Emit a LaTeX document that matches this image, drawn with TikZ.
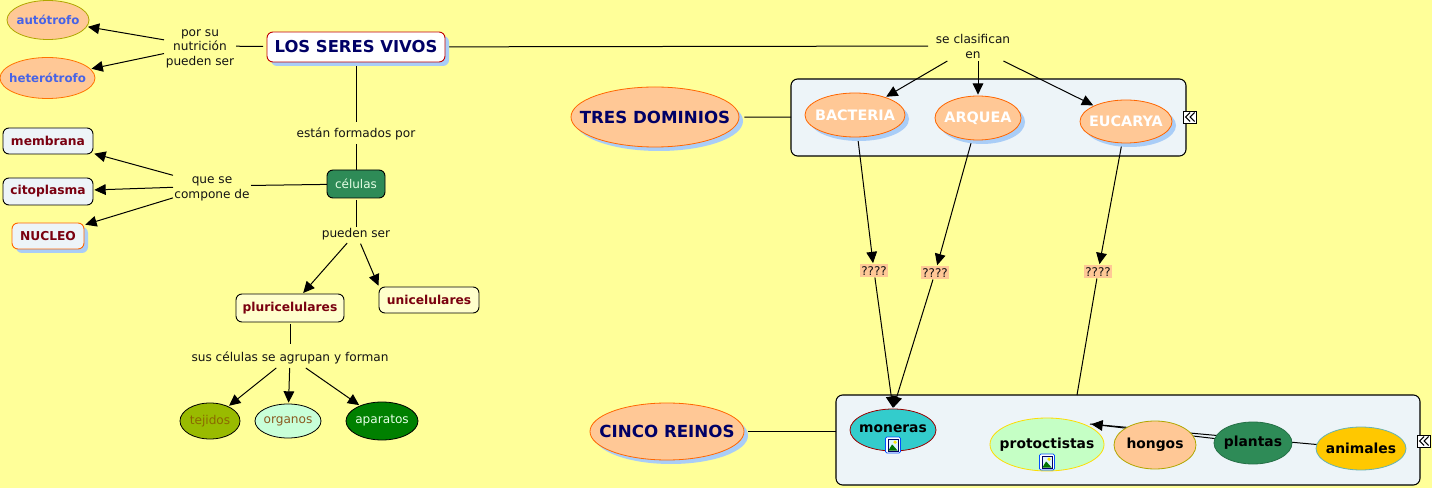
\documentclass[tikz,border=0pt]{standalone}
\usepackage{fontspec}
\setmainfont{DejaVu Sans}
\usetikzlibrary{arrows.meta,shapes.geometric,shadows}
\pgfdeclarelayer{bgl}\pgfdeclarelayer{boxl}\pgfdeclarelayer{edges}
\pgfsetlayers{bgl,boxl,edges,main}
\definecolor{bgy}{HTML}{FFFF99}
\definecolor{peach}{HTML}{FFC896}
\definecolor{shad}{HTML}{A9CDF7}
\definecolor{navyt}{HTML}{000066}
\definecolor{redt}{HTML}{7A0010}
\definecolor{bluet}{HTML}{4763E6}
\definecolor{sea}{HTML}{2E8B57}
\definecolor{pale}{HTML}{EDF4F8}
\definecolor{tejfill}{HTML}{99BB00}
\definecolor{tejtext}{HTML}{8A6A00}
\definecolor{orgfill}{HTML}{C8FFD8}
\definecolor{orgtext}{HTML}{8A5A20}
\definecolor{apafill}{HTML}{008000}
\definecolor{monfill}{HTML}{33CCCC}
\definecolor{proto}{HTML}{C5FFC5}
\definecolor{anifill}{HTML}{FFC800}
\newcommand{\mb}[1]{\makebox[0pt][c]{#1}}
\newcommand{\lowr}[1]{\raisebox{-3.8pt}[0pt][0pt]{\begin{tabular}{@{}c@{}}#1\end{tabular}}}
\tikzset{
 sz/.style 2 args={minimum width=#1*.75pt,minimum height=#2*.75pt,inner sep=0pt,outer sep=0pt},
 oval/.style={ellipse,draw,line width=.6pt,font=\fontsize{8.85}{11}\selectfont\bfseries},
 rbox/.style={rectangle,rounded corners=4.5pt,draw=black,line width=.7pt,font=\fontsize{9.2}{11}\selectfont\bfseries},
 lbl/.style={font=\fontsize{9.1}{10.9}\selectfont,text=black!92},
 hs/.style={copy shadow={shadow xshift=3pt,shadow yshift=-3pt,fill=shad,draw=none}},
 conn/.style={line width=.75pt,draw=black},
 arr/.style={conn,-{Triangle[length=8.5pt,width=8pt]},shorten >=1pt},
 panel/.style={rectangle,rounded corners=5pt,draw=black,line width=.8pt,fill=pale},
 small/.style={ellipse,draw=black,line width=.6pt,font=\fontsize{9.1}{11}\selectfont},
 qq/.style={rectangle,fill=peach,text=black!92,font=\fontsize{9}{10}\selectfont},
 king/.style={oval,text=black,font=\fontsize{10.4}{12}\selectfont\bfseries},
 bigo/.style={oval,fill=peach,draw=orange!80!red,text=navyt,hs,font=\fontsize{12.5}{14}\selectfont\bfseries},
 dom/.style={oval,fill=peach,draw=orange!80!red,text=white,hs,font=\fontsize{10.8}{12}\selectfont\bfseries},
}
\newcommand{\imgicon}[2]{%
 \begin{scope}[shift={(#1,#2)}]
  \draw[draw=blue!70!cyan,line width=.6pt,fill=white,rounded corners=1pt] (-7.5,-8) rectangle (7.5,8);
  \draw[draw=navyt,line width=.5pt,fill=cyan!12!white] (-5,-6) rectangle (5,6);
  \fill[green!45!black] (-4.6,5.6) -- (-1,-0.5) -- (1,1.5) -- (4.6,5.6) -- cycle;
  \fill[yellow!90!orange] (2,-2.8) circle (1.8);
 \end{scope}}
\newcommand{\colicon}[2]{%
 \begin{scope}[shift={(#1,#2)}]
  \draw[draw=black,line width=.7pt,fill=white] (-6.5,-6) rectangle (6.5,6);
  \draw[line width=.8pt] (0,-4.5) -- (-4.5,0) -- (0,4.5) (4.5,-4.5) -- (0,0) -- (4.5,4.5);
 \end{scope}}
\begin{document}
\begin{tikzpicture}[x=.75pt,y=-.75pt]
\begin{pgfonlayer}{bgl}
\fill[bgy] (0,0) rectangle (1432,488);
\end{pgfonlayer}
\useasboundingbox (0,0) rectangle (1432,488);
% left part
\node[oval,sz={82}{39},fill=peach,draw=olive!70!yellow,text=bluet] (auto) at (48,20) {\mb{autótrofo}};
\node[oval,sz={95}{41},fill=peach,draw=orange!90!red,text=bluet] (hete) at (47.5,78) {\mb{heterótrofo}};
\node[lbl,sz={72}{44}] (por) at (200,46) {\lowr{por su\\nutrición\\pueden ser}};
\node[rbox,sz={178}{30},fill=white,draw=red!75!black,text=navyt,hs,font=\fontsize{12.3}{14}\selectfont\bfseries] (seres) at (356,47) {\raisebox{-1pt}[0.7em][0.2em]{LOS SERES VIVOS}};
\node[rbox,sz={90}{26},fill=pale,text=redt] (memb) at (48,141) {membrana};
\node[rbox,sz={90}{27},fill=pale,text=redt] (cito) at (48,191.5) {citoplasma};
\node[rbox,sz={72}{26},fill=pale,draw=orange!80!red,text=redt,hs] (nucl) at (48,236) {NUCLEO};
\node[lbl,sz={78}{34}] (que) at (212,186) {\lowr{que se\\compone de}};
\node[lbl,sz={122}{22}] (form) at (356,133) {\lowr{están formados por}};
\node[rbox,sz={58}{28},fill=sea,text=green!10!white,font=\fontsize{9}{11}\selectfont] (cel) at (356,184) {células};
\node[lbl,sz={70}{14}] (pue) at (356,233) {\lowr{pueden ser}};
\node[rbox,sz={108}{28},fill=bgy!50!white,text=redt] (pluri) at (290,308) {pluricelulares};
\node[rbox,sz={100}{26},fill=bgy!50!white,text=redt] (uni) at (429,300) {unicelulares};
\node[lbl,sz={200}{22}] (sus) at (290,357) {\lowr{sus células se agrupan y forman}};
\node[small,sz={60}{36},fill=tejfill,text=tejtext] (tej) at (210,421) {\mb{tejidos}};
\node[small,sz={66}{34},fill=orgfill,text=orgtext] (org) at (288,421) {\mb{\raisebox{1.5pt}{organos}}};
\node[small,sz={72}{38},fill=apafill,text=green!10!white] (apa) at (382,421) {\mb{aparatos}};
% right part
\node[bigo,sz={168}{60}] (tres) at (655,117) {\mb{TRES DOMINIOS}};
\node[bigo,sz={154}{57}] (cinco) at (667,431.5) {\mb{CINCO REINOS}};
\begin{pgfonlayer}{boxl}
\node[panel,sz={395}{77}] (boxa) at (988.5,117.5) {};
\node[panel,sz={584}{90}] (boxb) at (1128,440) {};
\end{pgfonlayer}
\node[lbl,sz={90}{30}] (cla) at (973,46) {\lowr{se clasifican\\en}};
\node[dom,sz={100}{44}] (bac) at (855,115) {\mb{BACTERIA}};
\node[dom,sz={86}{44}] (arq) at (978,118) {\mb{ARQUEA}};
\node[dom,sz={92}{43}] (euc) at (1126,121.5) {\mb{EUCARYA}};
\node[qq,sz={28}{13}] (q1) at (874,271) {????};
\node[qq,sz={28}{13}] (q2) at (935,273) {????};
\node[qq,sz={28}{13}] (q3) at (1098,272) {????};
\node[king,sz={86}{42},fill=monfill,draw=red!60!black] (mon) at (893,430) {\mb{\raisebox{2.5pt}{moneras}}};
\node[king,sz={114}{53},fill=proto,draw=yellow!80!orange] (pro) at (1047,444.5) {\mb{\raisebox{2.5pt}{protoctistas}}};
\node[king,sz={82}{48},fill=peach,draw=olive!70!yellow] (hon) at (1155,445) {\mb{hongos}};
\node[king,sz={78}{42},fill=sea,draw=sea!80!black] (pla) at (1253,443) {\mb{plantas}};
\node[king,sz={90}{43},fill=anifill,draw=teal!60!white] (ani) at (1361,448.5) {\mb{animales}};
\coordinate (q3end) at (1077,395);
\coordinate (protip) at (1090,424);
\imgicon{893}{445}
\imgicon{1047}{462}
\colicon{1190}{117}
\colicon{1424}{441}
% connectors
\begin{pgfonlayer}{edges}
\draw[arr] (por) -- (auto);
\draw[arr] (por) -- (hete);
\draw[conn,shorten <=3pt] (seres) -- (por);
\draw[conn,shorten <=3pt] (seres) -- (cla);
\draw[conn,shorten <=3pt] (seres) -- (form);
\draw[conn] (form) -- (cel);
\draw[conn] (cel) -- (que);
\draw[arr] (que) -- (memb);
\draw[arr] (que) -- (cito);
\draw[arr] (que) -- (nucl);
\draw[conn,shorten <=1.5pt,shorten >=-1pt] (cel) -- (pue);
\draw[arr,shorten <=3pt] (pue) -- (pluri);
\draw[arr,shorten <=3pt] (pue) -- (uni.north west);
\draw[conn,shorten <=1.5pt,shorten >=1.5pt] (pluri) -- (sus);
\draw[arr] (sus) -- (tej);
\draw[arr] (sus) -- (org);
\draw[arr] (sus) -- (apa);
\draw[conn,shorten <=4pt] (tres) -- (boxa);
\draw[conn,shorten <=3pt] (cinco) -- (cinco -| boxb.west);
\draw[arr] (cla) -- (bac);
\draw[arr] (cla.south -| arq.north) -- (arq.north);
\draw[arr] (cla) -- (euc);
\draw[arr] (bac) -- (q1);
\draw[arr] (arq) -- (q2);
\draw[arr] (euc) -- (q3);
\draw[arr] (q1) -- (mon.north);
\draw[arr] (q2) -- (mon.north);
\draw[conn] (q3) -- (q3end);
\draw[conn] (ani) -- (protip);
\draw[arr] (pla) -- (protip);
\end{pgfonlayer}
\end{tikzpicture}
\end{document}
